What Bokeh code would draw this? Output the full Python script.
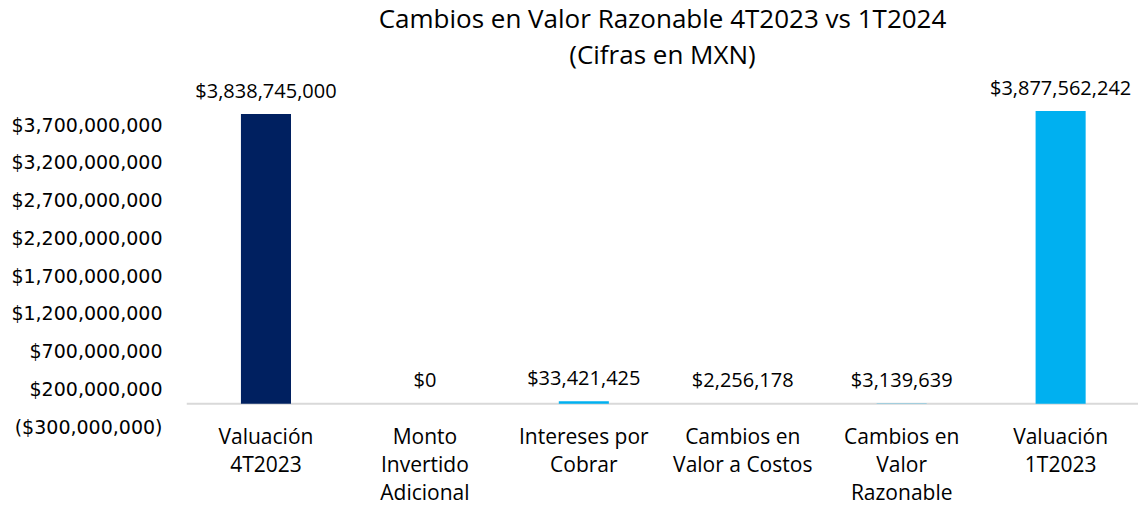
from bokeh.plotting import figure
from bokeh.models import (ColumnDataSource, Range1d, FixedTicker, LabelSet, Span, Title)
from bokeh.core.properties import value
from bokeh.embed import file_html
from bokeh.resources import INLINE

# ---- data ----
categories = ["Valuación\n4T2023", "Monto\nInvertido\nAdicional", "Intereses por\nCobrar",
              "Cambios en\nValor a Costos", "Cambios en\nValor\nRazonable", "Valuación\n1T2023"]
values = [3838745000, 0, 33421425, 2256178, 3139639, 3877562242]
bar_colors = ["#002060", "#00B0F0", "#00B0F0", "#00B0F0", "#00B0F0", "#00B0F0"]
y_ticks = [-300000000, 200000000, 700000000, 1200000000, 1700000000,
           2200000000, 2700000000, 3200000000, 3700000000]
y_tick_labels = ["($300,000,000)", "$200,000,000", "$700,000,000", "$1,200,000,000",
                 "$1,700,000,000", "$2,200,000,000", "$2,700,000,000", "$3,200,000,000",
                 "$3,700,000,000"]
title_text = "Cambios en Valor Razonable 4T2023 vs 1T2024"
subtitle_text = "(Cifras en MXN)"

FONT = "Open Sans"

x_idx = list(range(len(categories)))
labels = ["${:,.0f}".format(v) for v in values]
src = ColumnDataSource(dict(x=x_idx, top=values, color=bar_colors, label=labels))

p = figure(width=1138, height=508, output_backend="svg", toolbar_location=None,
           x_range=Range1d(-0.5, 5.49), y_range=Range1d(-300000000, 4402000000),
           min_border_left=186, min_border_right=0, min_border_top=0, min_border_bottom=0)
p.title.visible = False
p.outline_line_color = None
p.xgrid.visible = False
p.ygrid.visible = False

p.add_layout(Span(location=0, dimension="width", line_color="#D9D9D9", line_width=2,
                  level="underlay"))

p.vbar(x="x", top="top", bottom=0, width=0.315, fill_color="color", line_color=None,
       source=src)

p.add_layout(LabelSet(x="x", y="top", text="label", source=src, text_align="center",
                      text_baseline="middle", y_offset=24, text_font=value(FONT),
                      text_font_size="20px", text_color="#000000"))

# axes
xa = p.xaxis[0]
xa.ticker = FixedTicker(ticks=x_idx)
xa.major_label_overrides = {i: c for i, c in zip(x_idx, categories)}
xa.axis_line_color = None
xa.major_tick_line_color = None
xa.minor_tick_line_color = None
xa.major_tick_out = 0
xa.major_tick_in = 0
xa.major_label_standoff = -5
xa.major_label_text_font = FONT
xa.major_label_text_font_size = "21px"
xa.major_label_text_line_height = 1.0
xa.major_label_text_color = "#000000"

ya = p.yaxis[0]
ya.ticker = FixedTicker(ticks=y_ticks)
ya.major_label_overrides = {t: l for t, l in zip(y_ticks, y_tick_labels)}
ya.axis_line_color = None
ya.major_tick_line_color = None
ya.minor_tick_line_color = None
ya.major_tick_out = 0
ya.major_tick_in = 0
ya.major_label_standoff = 24
ya.major_label_text_font = "DejaVu Sans"
ya.major_label_text_font_size = "19px"
ya.major_label_text_color = "#000000"

p.add_layout(Title(text=subtitle_text, align="center", text_font=FONT, standoff=0,
                   text_font_size="26px", text_font_style="normal", text_color="#000000"), "above")
p.add_layout(Title(text=title_text, align="center", text_font=FONT, standoff=-5,
                   text_font_size="26px", text_font_style="normal", text_color="#000000"), "above")

open("out.html", "w").write(file_html(p, INLINE))
